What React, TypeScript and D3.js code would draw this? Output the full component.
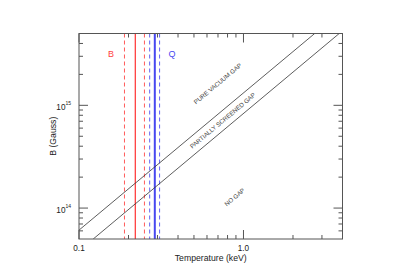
import React from "react";
import * as d3 from "d3";

const W = 393;
const H = 278;

const xDomain = [0.1, 4.0];
const yDomain = [5e13, 5e15];

const xMajorTicks = [0.1, 1.0];
const xMajorLabels = ["0.1", "1.0"];
const xMinorTicks = [0.2, 0.3, 0.4, 0.5, 0.6, 0.7, 0.8, 0.9, 2, 3];
const yMajorTicks = [1e14, 1e15];
const yMajorExp = ["14", "15"];
const yMinorTicks = [6e13, 7e13, 8e13, 9e13, 2e14, 3e14, 4e14, 5e14, 6e14, 7e14, 8e14, 9e14, 2e15, 3e15, 4e15];

// Diagonal boundary lines (temperature keV, B Gauss)
const vacuumT = [0.1, 2.71];
const vacuumB = [6.1e13, 5e15];
const screenedT = [0.122, 3.82];
const screenedB = [5e13, 5e15];

// Vertical temperature measurements: [lower, best, upper]
const redT = [0.189, 0.22, 0.25];
const blueT = [0.269, 0.289, 0.309];

const RED = "#ff4040";
const BLUE = "#4848f0";
const AXIS = "#555";
const FONT = "Liberation Sans, Arial, Helvetica, sans-serif";

export default function App() {
  const left = 79, right = 342.5, top = 33.5, bottom = 239;
  const x = d3.scaleLog().domain(xDomain).range([left, right]);
  const y = d3.scaleLog().domain(yDomain).range([bottom, top]);

  const line = d3
    .line<[number, number]>()
    .x((d) => x(d[0]))
    .y((d) => y(d[1]));

  const vac = vacuumT.map((t, i) => [t, vacuumB[i]] as [number, number]);
  const scr = screenedT.map((t, i) => [t, screenedB[i]] as [number, number]);

  const angle =
    (Math.atan2(y(vacuumB[1]) - y(vacuumB[0]), x(vacuumT[1]) - x(vacuumT[0])) * 180) / Math.PI;

  const majLen = 9;
  const minLen = 4;

  const vLines = (arr: number[], color: string, solidW: number) =>
    arr.map((t, i) => (
      <line
        key={color + i}
        x1={x(t)}
        x2={x(t)}
        y1={top}
        y2={bottom}
        stroke={color}
        strokeWidth={i === 1 ? solidW : 1}
        strokeDasharray={i === 1 ? undefined : "4,3"}
        opacity={i === 1 ? 1 : 0.85}
      />
    ));

  return (
    <svg
      width={W}
      height={H}
      style={{ position: "absolute", left: 0, top: 0, background: "#fff" }}
      fontFamily={FONT}
    >
      <defs>
        <clipPath id="plotclip">
          <rect x={left} y={top} width={right - left} height={bottom - top} />
        </clipPath>
      </defs>

      <g clipPath="url(#plotclip)">
        {vLines(redT, RED, 1.3)}
        {vLines(blueT, BLUE, 2)}
        <path d={line(vac) || ""} fill="none" stroke="#333" strokeWidth={0.8} />
        <path d={line(scr) || ""} fill="none" stroke="#333" strokeWidth={0.8} />
      </g>

      {/* axes box */}
      <rect x={left} y={top} width={right - left} height={bottom - top} fill="none" stroke={AXIS} strokeWidth={1} />

      {/* x ticks */}
      {xMajorTicks.map((t) => (
        <g key={"xm" + t}>
          <line x1={x(t)} x2={x(t)} y1={bottom} y2={bottom - majLen} stroke={AXIS} />
          <line x1={x(t)} x2={x(t)} y1={top} y2={top + majLen} stroke={AXIS} />
        </g>
      ))}
      {xMinorTicks.map((t) => (
        <g key={"xn" + t}>
          <line x1={x(t)} x2={x(t)} y1={bottom} y2={bottom - minLen} stroke={AXIS} />
          <line x1={x(t)} x2={x(t)} y1={top} y2={top + minLen} stroke={AXIS} />
        </g>
      ))}
      {xMajorTicks.map((t, i) => (
        <text key={"xl" + t} x={x(t)} y={250.5} fontSize={8.2} textAnchor="middle" fill="#222">
          {xMajorLabels[i]}
        </text>
      ))}
      <text x={(left + right) / 2} y={260.5} fontSize={8.7} textAnchor="middle" fill="#222">
        Temperature (keV)
      </text>

      {/* y ticks */}
      {yMajorTicks.map((t) => (
        <g key={"ym" + t}>
          <line x1={left} x2={left + majLen} y1={y(t)} y2={y(t)} stroke={AXIS} />
          <line x1={right} x2={right - majLen} y1={y(t)} y2={y(t)} stroke={AXIS} />
        </g>
      ))}
      {yMinorTicks.map((t) => (
        <g key={"yn" + t}>
          <line x1={left} x2={left + minLen} y1={y(t)} y2={y(t)} stroke={AXIS} />
          <line x1={right} x2={right - minLen} y1={y(t)} y2={y(t)} stroke={AXIS} />
        </g>
      ))}
      {yMajorTicks.map((t, i) => (
        <text key={"yl" + t} x={71} y={y(t) + 4.5} fontSize={8.2} textAnchor="end" fill="#222">
          10
          <tspan fontSize={5} dy={-4.5}>
            {yMajorExp[i]}
          </tspan>
        </text>
      ))}
      <text
        transform={`translate(${55.5},${(top + bottom) / 2}) rotate(-90)`}
        fontSize={8.7}
        textAnchor="middle"
        fill="#222"
      >
        B (Gauss)
      </text>

      {/* labels */}
      <text x={111} y={56.5} fontSize={9} textAnchor="middle" fill={RED}>
        B
      </text>
      <text x={172} y={56.5} fontSize={9} textAnchor="middle" fill={BLUE}>
        Q
      </text>

      <text
        transform={`translate(218,84) rotate(${angle})`}
        fontSize={6.2}
        textAnchor="middle"
        dominantBaseline="middle"
        fill="#444"
      >
        PURE VACUUM GAP
      </text>
      <text
        transform={`translate(223,121) rotate(${angle})`}
        fontSize={6.2}
        textAnchor="middle"
        dominantBaseline="middle"
        fill="#444"
      >
        PARTIALLY SCREENED GAP
      </text>
      <text
        transform={`translate(235,197.5) rotate(${angle})`}
        fontSize={6.2}
        textAnchor="middle"
        dominantBaseline="middle"
        fill="#444"
      >
        NO GAP
      </text>
    </svg>
  );
}
